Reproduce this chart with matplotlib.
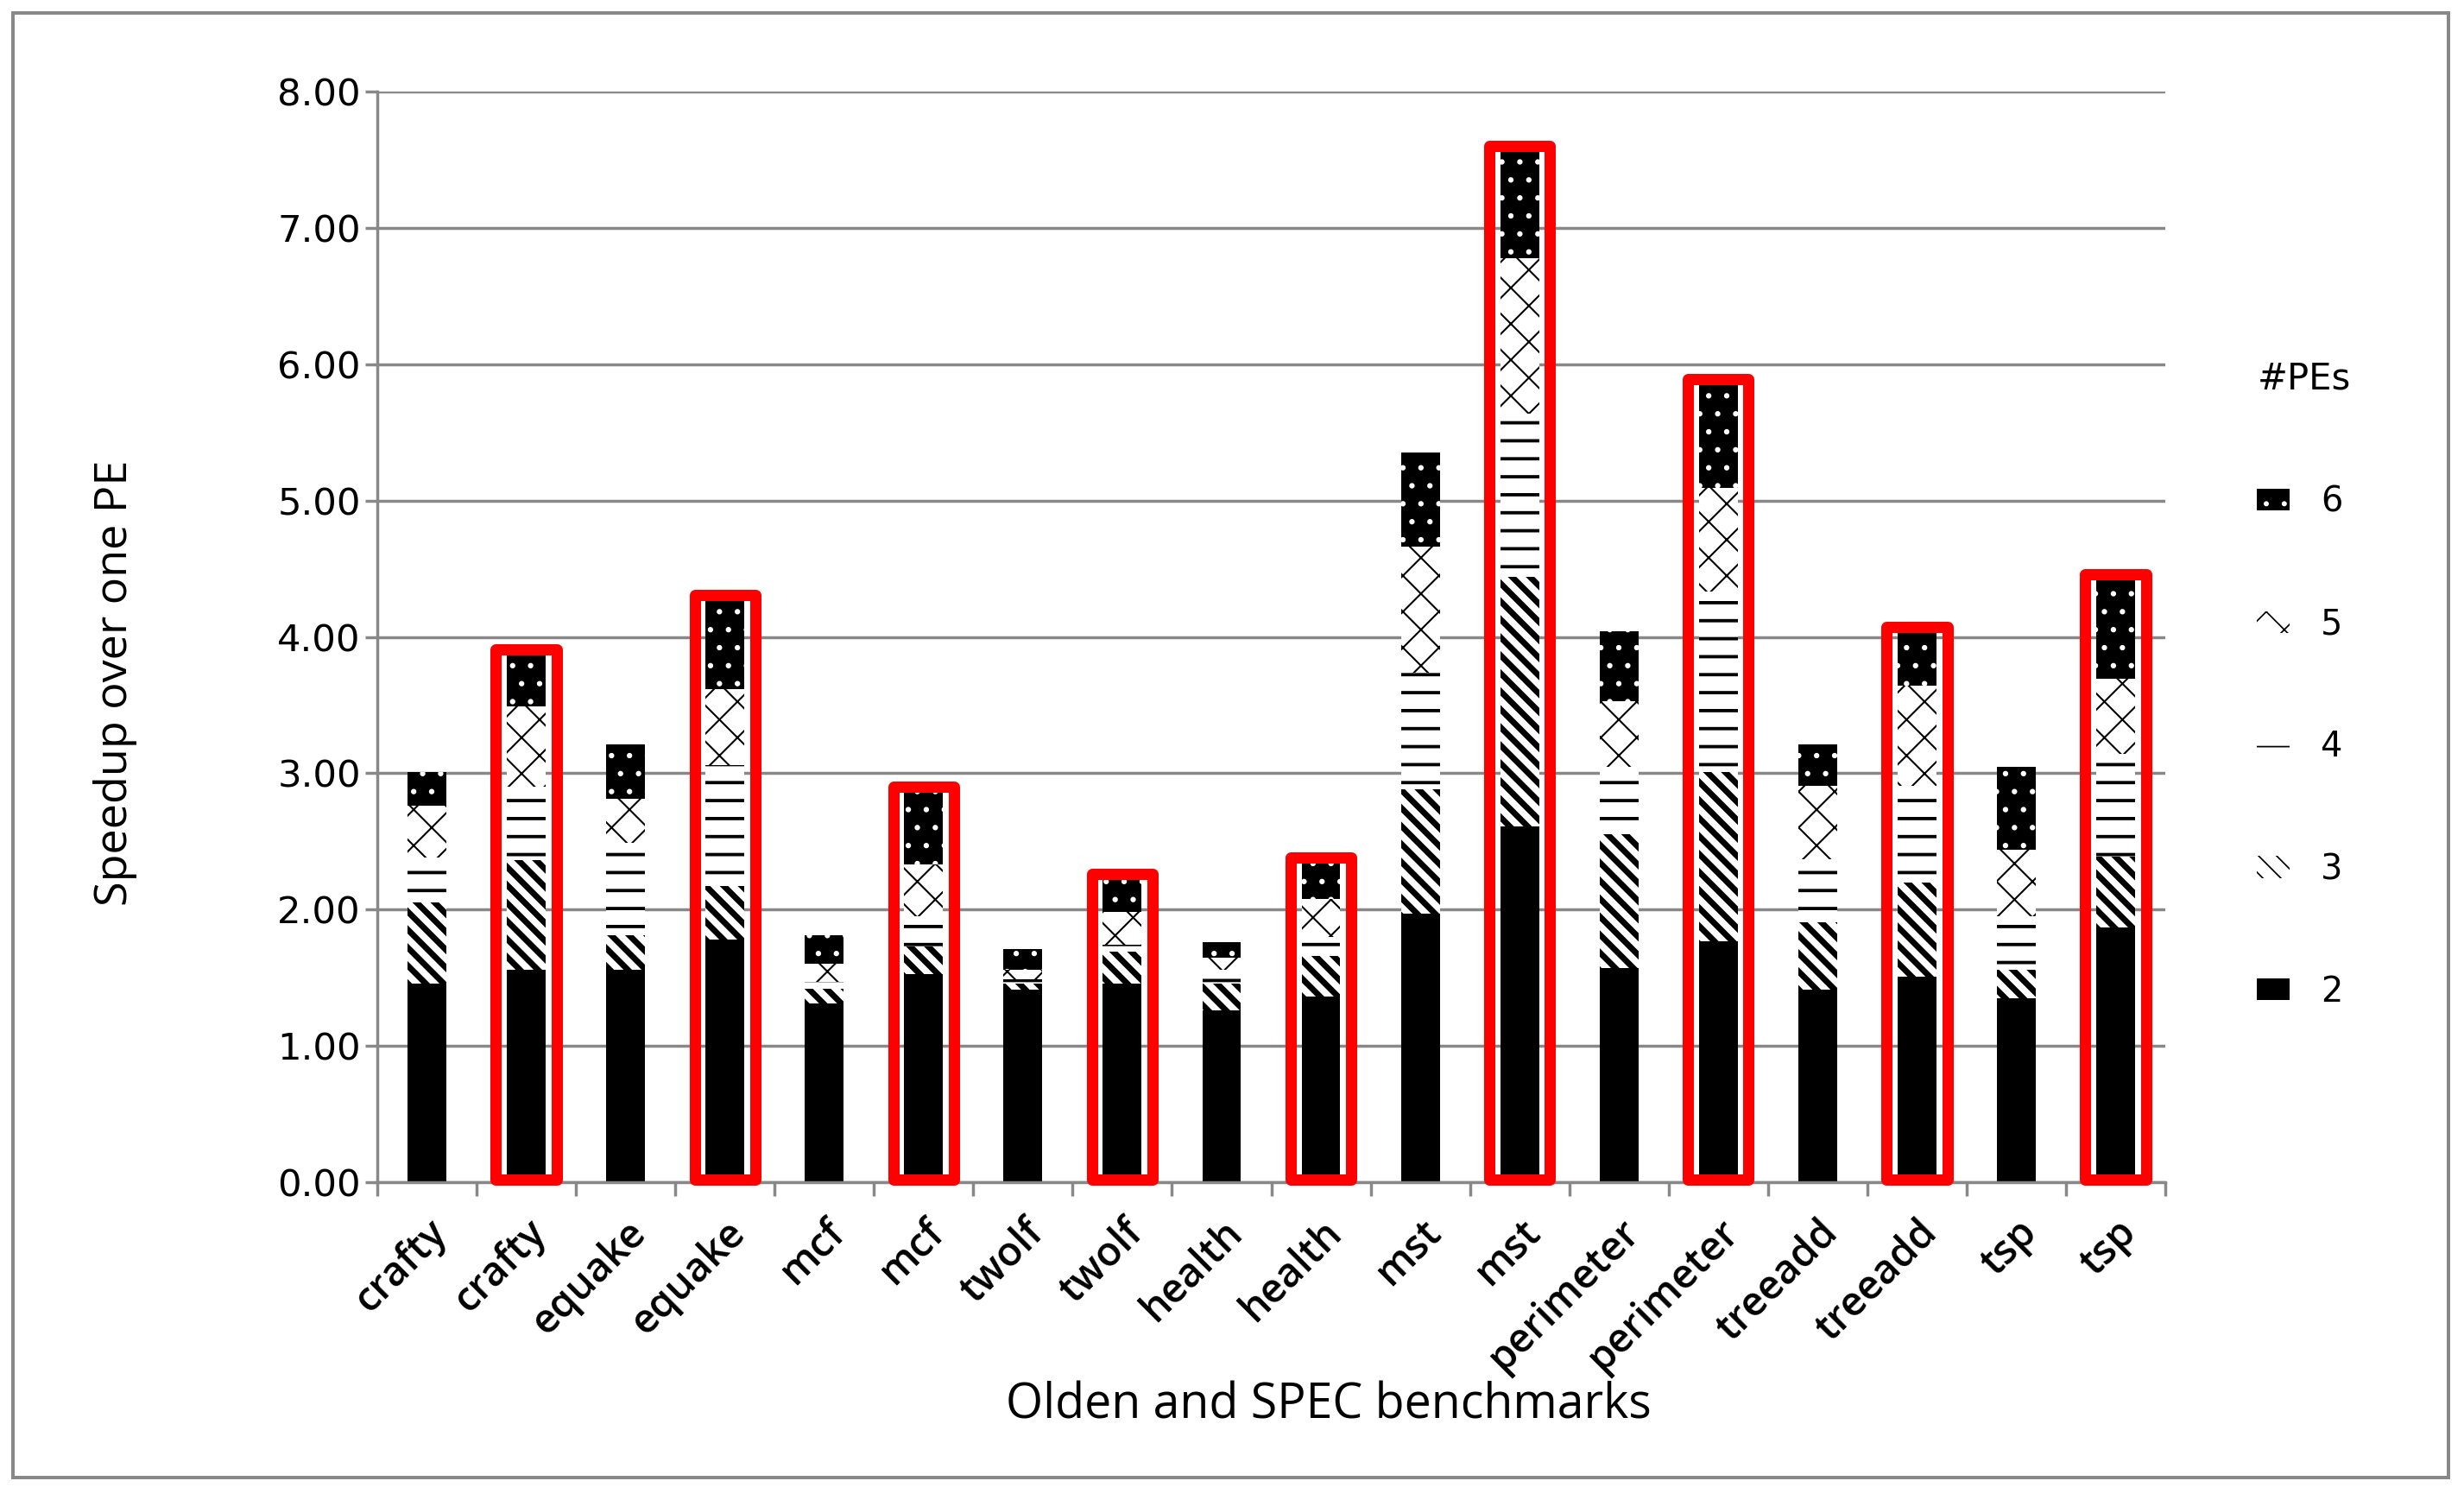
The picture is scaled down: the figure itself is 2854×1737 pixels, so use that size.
import numpy as np
import matplotlib
matplotlib.use('Agg')
import matplotlib.pyplot as plt
from matplotlib.patches import Rectangle

# ---------------- data ----------------
benchmarks = ['crafty', 'crafty', 'equake', 'equake', 'mcf', 'mcf',
              'twolf', 'twolf', 'health', 'health', 'mst', 'mst',
              'perimeter', 'perimeter', 'treeadd', 'treeadd', 'tsp', 'tsp']
highlighted = [False, True] * 9
pe_labels = ['2', '3', '4', '5', '6']
# cumulative speedup (top of each stacked segment) with 2..6 PEs
speedup_2 = [1.46, 1.56, 1.56, 1.78, 1.31, 1.53, 1.41, 1.46, 1.26, 1.36,
             1.97, 2.61, 1.57, 1.77, 1.41, 1.51, 1.35, 1.87]
speedup_3 = [2.05, 2.36, 1.81, 2.17, 1.42, 1.73, 1.46, 1.69, 1.46, 1.66,
             2.88, 4.44, 2.55, 3.01, 1.91, 2.20, 1.56, 2.39]
speedup_4 = [2.38, 2.90, 2.49, 3.06, 1.47, 1.95, 1.49, 1.74, 1.56, 1.80,
             3.74, 5.64, 3.05, 4.33, 2.37, 2.91, 1.95, 3.14]
speedup_5 = [2.76, 3.49, 2.81, 3.62, 1.60, 2.33, 1.56, 1.98, 1.65, 2.08,
             4.66, 6.78, 3.53, 5.09, 2.91, 3.64, 2.44, 3.69]
speedup_6 = [3.01, 3.87, 3.21, 4.27, 1.81, 2.86, 1.71, 2.22, 1.76, 2.34,
             5.35, 7.56, 4.04, 5.85, 3.21, 4.03, 3.05, 4.42]
y_ticks = [0, 1, 2, 3, 4, 5, 6, 7, 8]

# ---------------- styles ----------------
DPI = 125
GRAY = '#888888'
styles = [
    dict(face='black', edge='black', hatch=None, hlw=1.0),
    dict(face='white', edge='black', hatch='\\\\', hlw=4.0),
    dict(face='white', edge='black', hatch='-', hlw=2.2),
    dict(face='white', edge='black', hatch='x', hlw=1.2),
    dict(face='black', edge='white', hatch='.', hlw=1.2),
]

fig = plt.figure(figsize=(2854 / DPI, 1737 / DPI), dpi=DPI)
ax = fig.add_axes([0.1531, 0.2118, 0.8788 - 0.1531, 0.9390 - 0.2118])

x = np.arange(len(benchmarks))
series = [speedup_2, speedup_3, speedup_4, speedup_5, speedup_6]
bar_w = 0.39
prev = np.zeros(len(benchmarks))
handles = []
for lab, vals, st in zip(pe_labels, series, styles):
    vals = np.asarray(vals)
    with plt.rc_context({'hatch.linewidth': st['hlw']}):
        bars = ax.bar(x, vals - prev, bottom=prev, width=bar_w,
                      color=st['face'], edgecolor=st['edge'], linewidth=0,
                      hatch=st['hatch'], label=lab, zorder=2)
    for p in bars:
        if hasattr(p, 'set_hatch_linewidth'):
            p.set_hatch_linewidth(st['hlw'])
    handles.append(bars)
    prev = vals

# red highlight boxes around every second bar
tops = np.asarray(speedup_6)
box_w = 0.61
for xi, top, hl in zip(x, tops, highlighted):
    if hl:
        ax.add_patch(Rectangle((xi - box_w / 2, 0.02), box_w, top + 0.04 - 0.02,
                               fill=False, edgecolor='#ff0000', linewidth=7.5,
                               joinstyle='round', zorder=4, clip_on=False))

# ---------------- axes ----------------
ax.set_xlim(-0.5, len(benchmarks) - 0.5)
ax.set_ylim(0, 8)
ax.set_yticks(y_ticks)
ax.set_yticklabels(['%.2f' % v for v in y_ticks],
                   fontfamily='DejaVu Sans', fontsize=25)
ax.yaxis.grid(True, color=GRAY, linewidth=2.0)
ax.set_axisbelow(True)
ax.tick_params(axis='y', direction='out', length=8, width=2.0, color=GRAY, pad=3)

ax.set_xticks(x)
ax.set_xticklabels(benchmarks, rotation=45, ha='right', rotation_mode='anchor',
                   fontfamily='Open Sans', fontweight='semibold', fontsize=27)
ax.tick_params(axis='x', which='major', length=0, pad=20)
ax.set_xticks(np.arange(-0.5, len(benchmarks)), minor=True)
ax.tick_params(axis='x', which='minor', direction='out', length=9, width=2.0, color=GRAY)

for s in ['top', 'right']:
    ax.spines[s].set_visible(False)
for s in ['left', 'bottom']:
    ax.spines[s].set_color(GRAY)
    ax.spines[s].set_linewidth(2.0)

ax.set_ylabel('Speedup over one PE', fontfamily='Open Sans', fontsize=30)
ax.yaxis.set_label_coords(-0.1465, 0.458)
ax.yaxis.label.set_verticalalignment('center')
ax.set_xlabel('Olden and SPEC benchmarks', fontfamily='Open Sans', fontsize=32)
ax.xaxis.set_label_coords(0.532, -0.205)
ax.xaxis.label.set_verticalalignment('center')

leg = ax.legend(handles[::-1], pe_labels[::-1], title='#PEs',
                loc='upper left', bbox_to_anchor=(0.909, 0.771),
                bbox_transform=fig.transFigure, frameon=False,
                prop={'family': 'DejaVu Sans', 'size': 23},
                title_fontproperties={'family': 'DejaVu Sans', 'size': 24},
                handlelength=0.95, handleheight=0.6, handletextpad=0.9,
                labelspacing=2.55, borderpad=0, alignment='left')

# outer chart border
fig.patches.append(Rectangle((15 / 2854, 1 - 1711 / 1737), 2821 / 2854, 1696 / 1737,
                             transform=fig.transFigure, fill=False,
                             edgecolor=GRAY, linewidth=2.3, zorder=0))

fig.savefig('out.png', dpi=DPI, facecolor='white')
